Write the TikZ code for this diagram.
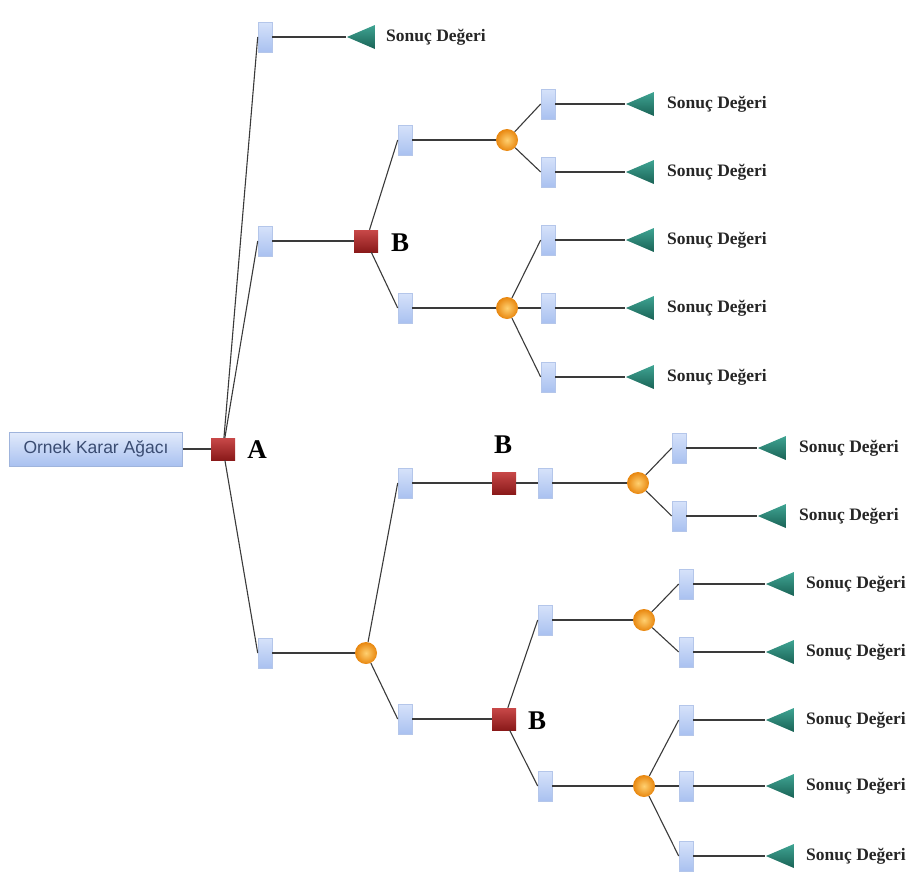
\documentclass[tikz,border=0pt]{standalone}
\usepackage{fontspec}
\setmainfont{Liberation Serif}
\newfontfamily\rootfont{Liberation Sans}
\usetikzlibrary{shapes.geometric}
\definecolor{boxtop}{HTML}{D6E2FA}
\definecolor{boxbot}{HTML}{A9C1F0}
\definecolor{boxdraw}{HTML}{B4C6EA}
\definecolor{dectop}{HTML}{C84848}
\definecolor{decbot}{HTML}{8A1A1A}
\definecolor{terma}{HTML}{3FA493}
\definecolor{termb}{HTML}{1A6356}
\definecolor{rootink}{HTML}{3A4C72}
\definecolor{rootdraw}{HTML}{9FB4DC}
\definecolor{linec}{HTML}{3A3A3A}
\definecolor{orin}{HTML}{FFD070}
\definecolor{orout}{HTML}{E8860E}
\tikzset{
  evt/.style={rectangle, minimum width=14pt, minimum height=30pt, inner sep=0pt,
    top color=boxtop, bottom color=boxbot, draw=boxdraw, line width=0.6pt},
  dec/.style={rectangle, minimum width=24pt, minimum height=22pt, inner sep=0pt,
    top color=dectop, bottom color=decbot},
  chance/.style={circle, minimum size=22pt, inner sep=0pt, inner color=orin, outer color=orout},
  term/.style={isosceles triangle, shape border rotate=180, isosceles triangle stretches,
    minimum width=24pt, minimum height=28pt, inner sep=0pt, top color=terma, bottom color=termb},
  rlabel/.style={font=\bfseries\fontsize{17.5}{17.5}\selectfont, anchor=west, inner sep=0pt, text=black!85},
  letter/.style={font=\bfseries\fontsize{27}{27}\selectfont, inner sep=0pt},
  conn/.style={draw=linec, line width=1.1pt},
  rootbox/.style={rectangle, minimum width=173pt, minimum height=34pt, inner sep=0pt,
    top color=boxtop!70!white, bottom color=boxbot, draw=rootdraw, line width=0.6pt,
    text=rootink, font=\rootfont\fontsize{17.5}{17.5}\selectfont}
}
\begin{document}
\begin{tikzpicture}[x=1pt,y=-1pt]
\useasboundingbox (0,0) rectangle (909,878);
% nodes
\node[rootbox] (root) at (96,449) {Ornek Karar Ağacı};
\node[dec] (A) at (223,449) {};
\node[letter] (Al) at (257,450) {A};

\node[evt] (b1) at (265,37) {};
\node[evt] (b2) at (265,241) {};
\node[evt] (b3) at (265,653) {};

\node[term] (t1) at (367,37) {};
\node[rlabel] (l1) at (386,37) {Sonuç Değeri};

\node[dec] (B1) at (366,241) {};
\node[letter] (B1l) at (400,243) {B};
\node[evt] (b4) at (405,140) {};
\node[evt] (b5) at (405,308) {};
\node[chance] (c2) at (507,140) {};
\node[chance] (c3) at (507,308) {};
\node[evt] (b6) at (548,104) {};
\node[evt] (b7) at (548,172) {};
\node[evt] (b8) at (548,240) {};
\node[evt] (b9) at (548,308) {};
\node[evt] (b10) at (548,377) {};
\node[term] (t6) at (646,104) {};
\node[term] (t7) at (646,172) {};
\node[term] (t8) at (646,240) {};
\node[term] (t9) at (646,308) {};
\node[term] (t10) at (646,377) {};
\node[rlabel] (l6) at (667,104) {Sonuç Değeri};
\node[rlabel] (l7) at (667,172) {Sonuç Değeri};
\node[rlabel] (l8) at (667,240) {Sonuç Değeri};
\node[rlabel] (l9) at (667,308) {Sonuç Değeri};
\node[rlabel] (l10) at (667,377) {Sonuç Değeri};

\node[chance] (c1) at (366,653) {};
\node[evt] (b11) at (405,483) {};
\node[evt] (b12) at (405,719) {};
\node[dec] (B2) at (504,483) {};
\node[letter] (B2l) at (503,445) {B};
\node[evt] (b13) at (545,483) {};
\node[chance] (c4) at (638,483) {};
\node[evt] (b14) at (679,448) {};
\node[evt] (b15) at (679,516) {};
\node[term] (t14) at (778,448) {};
\node[term] (t15) at (778,516) {};
\node[rlabel] (l14) at (799,448) {Sonuç Değeri};
\node[rlabel] (l15) at (799,516) {Sonuç Değeri};

\node[dec] (B3) at (504,719) {};
\node[letter] (B3l) at (537,721) {B};
\node[evt] (b16) at (545,620) {};
\node[evt] (b17) at (545,786) {};
\node[chance] (c5) at (644,620) {};
\node[chance] (c6) at (644,786) {};
\node[evt] (b18) at (686,584) {};
\node[evt] (b19) at (686,652) {};
\node[evt] (b20) at (686,720) {};
\node[evt] (b21) at (686,786) {};
\node[evt] (b22) at (686,856) {};
\node[term] (t18) at (786,584) {};
\node[term] (t19) at (786,652) {};
\node[term] (t20) at (786,720) {};
\node[term] (t21) at (786,786) {};
\node[term] (t22) at (786,856) {};
\node[rlabel] (l18) at (806,584) {Sonuç Değeri};
\node[rlabel] (l19) at (806,652) {Sonuç Değeri};
\node[rlabel] (l20) at (806,720) {Sonuç Değeri};
\node[rlabel] (l21) at (806,786) {Sonuç Değeri};
\node[rlabel] (l22) at (806,856) {Sonuç Değeri};

% connectors
\draw[conn] (root) -- (A);
\draw[conn] (A) -- (b1.west);
\draw[conn] (A) -- (b2.west);
\draw[conn] (A) -- (b3.west);
\draw[conn] (b1) -- (t1.apex);
\draw[conn] (b2) -- (B1);
\draw[conn] (B1) -- (b4.west);
\draw[conn] (B1) -- (b5.west);
\draw[conn] (b4) -- (c2);
\draw[conn] (b5) -- (c3);
\draw[conn] (c2) -- (b6.west);
\draw[conn] (c2) -- (b7.west);
\draw[conn] (c3) -- (b8.west);
\draw[conn] (c3) -- (b9.west);
\draw[conn] (c3) -- (b10.west);
\foreach \i in {6,7,8,9,10,14,15,18,19,20,21,22}{\draw[conn] (b\i) -- (t\i.apex);}
\draw[conn] (b3) -- (c1);
\draw[conn] (c1) -- (b11.west);
\draw[conn] (c1) -- (b12.west);
\draw[conn] (b11) -- (B2);
\draw[conn] (B2) -- (b13);
\draw[conn] (b13) -- (c4);
\draw[conn] (c4) -- (b14.west);
\draw[conn] (c4) -- (b15.west);
\draw[conn] (b12) -- (B3);
\draw[conn] (B3) -- (b16.west);
\draw[conn] (B3) -- (b17.west);
\draw[conn] (b16) -- (c5);
\draw[conn] (b17) -- (c6);
\draw[conn] (c5) -- (b18.west);
\draw[conn] (c5) -- (b19.west);
\draw[conn] (c6) -- (b20.west);
\draw[conn] (c6) -- (b21.west);
\draw[conn] (c6) -- (b22.west);
\end{tikzpicture}
\end{document}
